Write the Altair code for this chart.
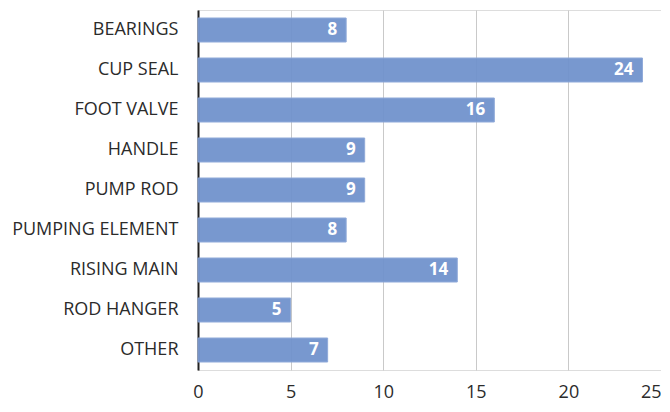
import altair as alt
import pandas as pd

categories = ["BEARINGS", "CUP SEAL", "FOOT VALVE", "HANDLE", "PUMP ROD",
              "PUMPING ELEMENT", "RISING MAIN", "ROD HANGER", "OTHER"]
values = [8, 24, 16, 9, 9, 8, 14, 5, 7]
x_ticks = [0, 5, 10, 15, 20, 25]

df = pd.DataFrame({"cat": categories, "val": values})

FONT = "Open Sans"

y_enc = alt.Y("cat:N", sort=categories, title=None,
              scale=alt.Scale(paddingInner=0.4, paddingOuter=0.2),
              axis=alt.Axis(domain=True, domainColor="#222222", domainWidth=2,
                            ticks=False, labelFontSize=18, labelColor="#2b2b2b",
                            labelFont=FONT, labelPadding=20, grid=False))
x_enc = alt.X("val:Q", title=None,
              scale=alt.Scale(domain=[0, 25], nice=False),
              axis=alt.Axis(values=x_ticks, domain=False, ticks=False,
                            grid=True, gridColor="#c9c9c9", gridWidth=1,
                            labelFontSize=18, labelColor="#2b2b2b",
                            labelFont=FONT, labelPadding=13,
                            labelFlush=False,
                            labelAlign={"condition": {"test": "datum.value == 25",
                                                      "value": "right"},
                                        "value": "center"}))

bars = alt.Chart(df).mark_bar(color="#7193cd", opacity=0.95,
                              stroke="#8ba6d8", strokeWidth=1).encode(
    x=x_enc, y=y_enc)

labels = alt.Chart(df).mark_text(align="right", baseline="middle", dx=-9,
                                 color="white", fontWeight="bold",
                                 fontSize=17, font=FONT).encode(
    x=alt.X("val:Q"), y=alt.Y("cat:N", sort=categories), text="val:Q")

chart = (bars + labels).properties(
    width=463, height=360,
    autosize=alt.AutoSizeParams(type="none"),
    padding={"left": 190, "top": 2, "right": 0, "bottom": 32},
).configure_view(stroke=None).configure(background="white")

chart.save("out.html", embed_options={"renderer": "svg", "actions": False})
